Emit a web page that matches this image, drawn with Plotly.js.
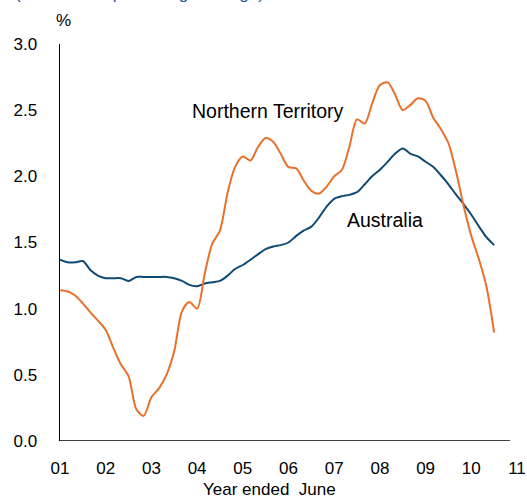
<!DOCTYPE html>
<html>
<head>
<meta charset="utf-8">
<script src="https://cdn.plot.ly/plotly-3.0.1.min.js"></script>
<style>html,body{margin:0;padding:0;background:#fff;}#chart{width:527px;height:498px;}</style>
</head>
<body>
<div id="chart"></div>
<script>
const period = [2001.00,2001.17,2001.33,2001.50,2001.67,2001.83,
  2002.00,2002.17,2002.33,2002.50,2002.67,2002.83,
  2003.00,2003.17,2003.33,2003.50,2003.67,2003.83,
  2004.00,2004.17,2004.33,2004.50,2004.67,2004.83,
  2005.00,2005.17,2005.33,2005.50,2005.67,2005.83,
  2006.00,2006.17,2006.33,2006.50,2006.67,2006.83,
  2007.00,2007.17,2007.33,2007.50,2007.67,2007.83,
  2008.00,2008.17,2008.33,2008.50,2008.67,2008.83,
  2009.00,2009.17,2009.33,2009.50,2009.67,2009.83,
  2010.00,2010.17,2010.33,2010.50];

const northernTerritory = [1.14,1.13,1.10,1.04,0.97,0.91,
  0.84,0.70,0.58,0.49,0.24,0.19,
  0.33,0.40,0.50,0.68,0.98,1.05,
  1.00,1.27,1.49,1.59,1.88,2.07,
  2.15,2.12,2.22,2.29,2.26,2.17,
  2.07,2.06,1.97,1.89,1.87,1.92,
  2.00,2.05,2.22,2.43,2.40,2.55,
  2.69,2.71,2.62,2.50,2.54,2.59,
  2.57,2.44,2.36,2.25,2.03,1.78,
  1.55,1.37,1.17,0.82];

const australia = [1.37,1.35,1.35,1.36,1.29,1.25,
  1.23,1.23,1.23,1.21,1.24,1.24,
  1.24,1.24,1.24,1.23,1.21,1.18,
  1.17,1.19,1.20,1.21,1.25,1.30,
  1.33,1.37,1.41,1.45,1.47,1.48,
  1.50,1.55,1.59,1.62,1.69,1.77,
  1.83,1.85,1.86,1.88,1.94,2.00,
  2.05,2.11,2.17,2.21,2.17,2.15,
  2.11,2.07,2.01,1.94,1.86,1.79,
  1.71,1.62,1.54,1.48];

const yearTicks = [2001,2002,2003,2004,2005,2006,2007,2008,2009,2010,2011];
const yearLabels = ['01','02','03','04','05','06','07','08','09','10','11'];

const FONT = 'Liberation Sans, Arial, sans-serif';

const traces = [
  {x: period, y: australia, type: 'scatter', mode: 'lines', name: 'Australia',
   line: {color: '#0E4A73', width: 2, shape: 'spline', smoothing: 0.8}, hoverinfo: 'skip'},
  {x: period, y: northernTerritory, type: 'scatter', mode: 'lines', name: 'Northern Territory',
   line: {color: '#E8702A', width: 2, shape: 'spline', smoothing: 0.8}, hoverinfo: 'skip'}
];

const layout = {
  width: 527, height: 498,
  margin: {l: 60, r: 10, t: 44, b: 57, pad: 0},
  paper_bgcolor: '#fff', plot_bgcolor: '#fff',
  showlegend: false,
  font: {family: FONT, color: '#000', size: 17},
  xaxis: {
    range: [2001, 2011], tickvals: yearTicks, ticktext: yearLabels,
    showgrid: false, zeroline: false, showline: false,
    ticks: 'outside', ticklen: 12, tickcolor: 'rgba(0,0,0,0)',
    tickfont: {family: FONT, size: 17, color: '#000'}, fixedrange: true
  },
  yaxis: {
    range: [0, 3], dtick: 0.5, tick0: 0, tickformat: '.1f',
    showgrid: false, zeroline: false, showline: true, linecolor: '#000', linewidth: 1.5,
    ticks: 'outside', ticklen: 18, tickcolor: 'rgba(0,0,0,0)',
    tickfont: {family: FONT, size: 17, color: '#000'}, fixedrange: true
  },
  shapes: [
    {type: 'line', xref: 'paper', yref: 'y', x0: 0, x1: 0.985, y0: 0, y1: 0,
     line: {color: '#000', width: 1.5}}
  ],
  annotations: [
    {text: '(Year-ended percentage change)', xref: 'paper', yref: 'paper',
     x: 0.175, y: 1.127, xanchor: 'center', yanchor: 'middle', showarrow: false,
     font: {family: FONT, size: 17, color: '#1F5C99'}},
    {text: '%', xref: 'paper', yref: 'paper', x: 0.0066, y: 1.058,
     xanchor: 'center', yanchor: 'middle', showarrow: false,
     font: {family: FONT, size: 17, color: '#000'}},
    {text: 'Northern Territory', xref: 'x', yref: 'y', x: 2005.55, y: 2.49,
     xanchor: 'center', yanchor: 'middle', showarrow: false,
     font: {family: FONT, size: 19.5, color: '#000'}},
    {text: 'Australia', xref: 'x', yref: 'y', x: 2008.11, y: 1.67,
     xanchor: 'center', yanchor: 'middle', showarrow: false,
     font: {family: FONT, size: 19.5, color: '#000'}},
    {text: 'Year ended\u00a0 June', xref: 'paper', yref: 'paper', x: 0.4595, y: -0.1234,
     xanchor: 'center', yanchor: 'middle', showarrow: false,
     font: {family: FONT, size: 17, color: '#000'}}
  ]
};

Plotly.newPlot('chart', traces, layout, {staticPlot: true, displayModeBar: false});
</script>
</body>
</html>
